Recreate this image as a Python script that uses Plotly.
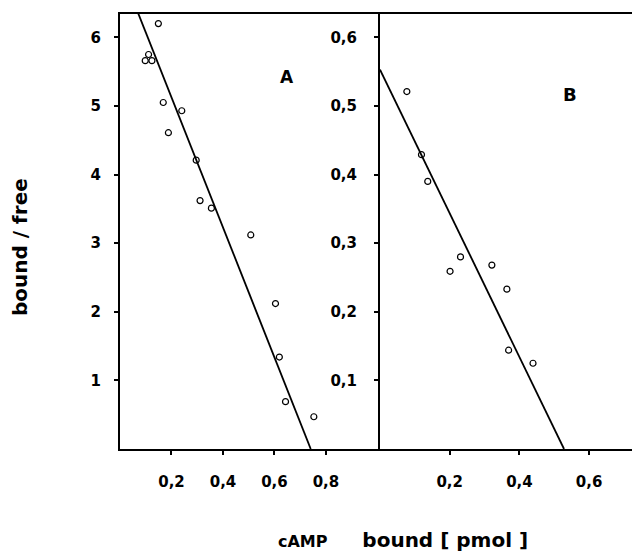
import plotly.graph_objects as go

# Panel A data (Scatchard plot)
a_bound = [0.149, 0.098, 0.111, 0.124, 0.168, 0.240, 0.188, 0.296, 0.311, 0.355, 0.508, 0.604, 0.619, 0.643, 0.753]
a_ratio = [6.20, 5.66, 5.75, 5.66, 5.05, 4.93, 4.61, 4.21, 3.62, 3.51, 3.12, 2.12, 1.34, 0.69, 0.47]
a_fit_x = [0.0, 0.741]
a_fit_y = [7.02, 0.0]

# Panel B data
b_bound = [0.077, 0.119, 0.137, 0.201, 0.231, 0.321, 0.364, 0.369, 0.439]
b_ratio = [0.521, 0.429, 0.390, 0.259, 0.280, 0.268, 0.233, 0.144, 0.125]
b_fit_x = [0.0, 0.528]
b_fit_y = [0.553, 0.0]

a_xticks = [0.2, 0.4, 0.6, 0.8]
a_xtext = ["0,2", "0,4", "0,6", "0,8"]
a_yticks = [1, 2, 3, 4, 5, 6]
a_ytext = ["1", "2", "3", "4", "5", "6"]
b_xticks = [0.2, 0.4, 0.6]
b_xtext = ["0,2", "0,4", "0,6"]
b_yticks = [0.1, 0.2, 0.3, 0.4, 0.5, 0.6]
b_ytext = ["0,1", "0,2", "0,3", "0,4", "0,5", "0,6"]

FONT = "DejaVu Sans"
marker = dict(symbol="circle-open", size=6, color="black", line=dict(width=1.2, color="black"))

fig = go.Figure()
fig.add_trace(go.Scatter(x=a_bound, y=a_ratio, mode="markers", marker=marker, xaxis="x", yaxis="y"))
fig.add_trace(go.Scatter(x=a_fit_x, y=a_fit_y, mode="lines", line=dict(color="black", width=1.8), xaxis="x", yaxis="y"))
fig.add_trace(go.Scatter(x=b_bound, y=b_ratio, mode="markers", marker=marker, xaxis="x2", yaxis="y2"))
fig.add_trace(go.Scatter(x=b_fit_x, y=b_fit_y, mode="lines", line=dict(color="black", width=1.8), xaxis="x2", yaxis="y2"))

split = 260 / 512
tickfont = dict(family=FONT, size=15, color="black", weight="bold")
common_x = dict(showgrid=False, zeroline=False, showline=True, linecolor="black", linewidth=2,
                ticks="outside", ticklen=4, tickwidth=1.5, tickcolor="black", tickfont=tickfont,
                ticklabelstandoff=14)
common_y = dict(showgrid=False, zeroline=False, showline=True, linecolor="black", linewidth=2,
                ticks="outside", ticklen=4, tickwidth=1.5, tickcolor="black", tickfont=tickfont)

fig.update_layout(
    width=632, height=559,
    margin=dict(l=120, r=0, t=14, b=110),
    paper_bgcolor="white", plot_bgcolor="white",
    showlegend=False,
    xaxis=dict(domain=[0, split], range=[0, 1.01], tickvals=a_xticks, ticktext=a_xtext,
               mirror=True, anchor="y", **common_x),
    yaxis=dict(range=[0, 6.34], tickvals=a_yticks, ticktext=a_ytext, mirror=False, anchor="x",
               ticklabelstandoff=10, **common_y),
    xaxis2=dict(domain=[split, 1], range=[0, 0.723], tickvals=b_xticks, ticktext=b_xtext,
                mirror=True, anchor="y2", **common_x),
    yaxis2=dict(range=[0, 0.634], tickvals=b_yticks, ticktext=b_ytext, anchor="x2",
                ticklabelstandoff=14, **common_y),
    annotations=[
        dict(text="A", x=0.649, y=5.42, xref="x", yref="y", showarrow=False,
             font=dict(family=FONT, size=17, color="black", weight="bold")),
        dict(text="B", x=0.544, y=0.516, xref="x2", yref="y2", showarrow=False,
             font=dict(family=FONT, size=18, color="black", weight="bold")),
        dict(text="bound / free", x=(20 - 120) / 512, y=(449 - 247) / 435, xref="paper", yref="paper",
             xanchor="center", yanchor="middle", textangle=-90, showarrow=False,
             font=dict(family=FONT, size=20, color="black", weight="bold")),
        dict(text="<span style='font-size:16px'>cAMP</span>&nbsp;&nbsp;&nbsp;&nbsp;&nbsp;bound [ pmol ]",
             x=(403 - 120) / 512, y=(449 - 540) / 435, xref="paper", yref="paper",
             xanchor="center", yanchor="middle",
             showarrow=False, font=dict(family=FONT, size=20, color="black", weight="bold")),
    ],
)

fig.write_html("out.html")
